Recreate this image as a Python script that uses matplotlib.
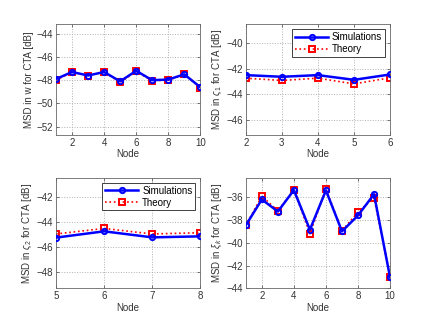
import numpy as np
import matplotlib
matplotlib.use("Agg")
import matplotlib.pyplot as plt

plt.rcParams["font.family"] = ["Liberation Sans", "DejaVu Sans"]
plt.rcParams["font.size"] = 7
plt.rcParams["mathtext.fontset"] = "custom"
plt.rcParams["mathtext.rm"] = "Liberation Sans"
plt.rcParams["mathtext.it"] = "Liberation Sans:italic"

# ---- data ----
nodes_w = [1, 2, 3, 4, 5, 6, 7, 8, 9, 10]
sim_w = [-47.9, -47.3, -47.6, -47.3, -48.1, -47.2, -48.0, -47.95, -47.5, -48.6]
theo_w = [-48.0, -47.3, -47.6, -47.3, -48.2, -47.25, -48.05, -48.0, -47.5, -48.65]

nodes_s1 = [2, 3, 4, 5, 6]
sim_s1 = [-42.5, -42.63, -42.5, -42.87, -42.45]
theo_s1 = [-42.74, -42.92, -42.74, -43.19, -42.71]

nodes_s2 = [5, 6, 7, 8]
sim_s2 = [-45.26, -44.76, -45.24, -45.16]
theo_s2 = [-44.97, -44.53, -44.97, -44.87]

nodes_xi = [1, 2, 3, 4, 5, 6, 7, 8, 9, 10]
sim_xi = [-38.47, -36.2, -37.26, -35.38, -38.85, -35.4, -39.0, -37.6, -35.74, -43.03]
theo_xi = [-38.47, -35.9, -37.2, -35.35, -39.2, -35.3, -38.94, -37.3, -36.06, -42.97]

panels = [
    dict(pos=[0.13, 0.5838, 0.3347, 0.3412], x=nodes_w, sim=sim_w, theo=theo_w,
         ylabel="MSD in w for CTA [dB]", xlim=(1, 10), ylim=(-52.7, -43.2),
         xticks=[2, 4, 6, 8, 10], yticks=[-52, -50, -48, -46, -44], legend=False),
    dict(pos=[0.5703, 0.5838, 0.3347, 0.3412], x=nodes_s1, sim=sim_s1, theo=theo_s1,
         ylabel=r"MSD in $\varsigma_1$ for CTA [dB]", xlim=(2, 6), ylim=(-47.2, -38.5),
         xticks=[2, 3, 4, 5, 6], yticks=[-46, -44, -42, -40], legend=True),
    dict(pos=[0.13, 0.11, 0.3347, 0.3412], x=nodes_s2, sim=sim_s2, theo=theo_s2,
         ylabel=r"MSD in $\varsigma_2$ for CTA [dB]", xlim=(5, 8), ylim=(-49.3, -40.5),
         xticks=[5, 6, 7, 8], yticks=[-48, -46, -44, -42], legend=True),
    dict(pos=[0.5703, 0.11, 0.3347, 0.3412], x=nodes_xi, sim=sim_xi, theo=theo_xi,
         ylabel=r"MSD in $\xi_k$ for CTA [dB]", xlim=(1, 10), ylim=(-44, -34.3),
         xticks=[2, 4, 6, 8, 10], yticks=[-44, -42, -40, -38, -36], legend=False),
]

fig = plt.figure(figsize=(4.31, 3.24), dpi=100)

for p in panels:
    ax = fig.add_axes(p["pos"])
    ax.plot(p["x"], p["sim"], "-o", color="blue", linewidth=1.8,
            markersize=3.8, markerfacecolor="none", markeredgewidth=1.4,
            label="Simulations", zorder=3)
    ax.plot(p["x"], p["theo"], ":s", color="red", linewidth=1.2,
            markersize=4.0, markerfacecolor="none", markeredgewidth=1.4,
            label="Theory", zorder=2)
    ax.set_xlim(p["xlim"])
    ax.set_ylim(p["ylim"])
    ax.set_xticks(p["xticks"])
    ax.set_yticks(p["yticks"])
    ax.set_yticklabels([f"\u2212{abs(v)}" for v in p["yticks"]])
    ax.set_xlabel("Node", labelpad=1, color="#333333")
    ax.set_ylabel(p["ylabel"], labelpad=2, color="#333333")
    ax.grid(True, linestyle=":", color="#b0b0b0", linewidth=0.7)
    ax.tick_params(direction="in", length=2.5, width=0.5, colors="#444444",
                   labelcolor="#333333", top=True, right=True, pad=2)
    for s in ax.spines.values():
        s.set_color("#666666")
        s.set_linewidth(0.6)
    if p["legend"]:
        leg = ax.legend(loc="upper right", fancybox=False, framealpha=1,
                        edgecolor="#222222", handlelength=3.4, borderpad=0.3,
                        labelspacing=0.2, handletextpad=0.4, borderaxespad=0.5)
        leg.get_frame().set_linewidth(0.6)

fig.savefig("out.png", dpi=100)
